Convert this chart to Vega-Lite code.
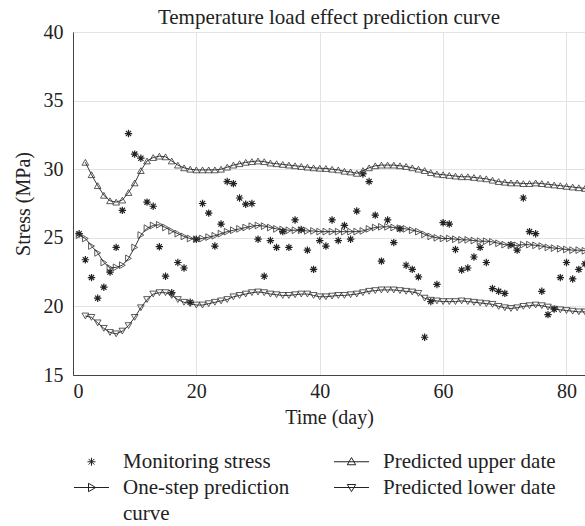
{
  "$schema": "https://vega.github.io/schema/vega-lite/v6.json",
  "width": 512,
  "height": 343,
  "autosize": {"type": "none"},
  "padding": {"left": 73, "top": 32, "right": 0, "bottom": 151},
  "background": "white",
  "title": {"text": "Temperature load effect prediction curve", "font": "Liberation Serif", "fontSize": 21, "fontWeight": "normal", "color": "#222", "offset": -6},
  "config": {
    "view": {"stroke": "#444", "strokeWidth": 1},
    "axis": {"labelFont": "Liberation Serif", "titleFont": "Liberation Serif", "labelFontSize": 20, "titleFontSize": 20, "titleFontWeight": "normal", "labelColor": "#222", "titleColor": "#222", "domainColor": "#444", "gridColor": "#e3e3e3", "ticks": false}
  },
  "data": {"values": [
    {"d":1,"m":25.3,"o":25.2},
    {"d":2,"m":23.4,"o":24.95,"u":30.5,"l":19.3},
    {"d":3,"m":22.1,"o":24.4,"u":29.6,"l":19.2},
    {"d":4,"m":20.6,"o":23.9,"u":28.8,"l":18.8},
    {"d":5,"m":21.4,"o":23.2,"u":28.1,"l":18.4},
    {"d":6,"m":22.5,"o":22.8,"u":27.7,"l":18.1},
    {"d":7,"m":24.3,"o":22.85,"u":27.6,"l":18.0},
    {"d":8,"m":27.0,"o":23.0,"u":27.75,"l":18.2},
    {"d":9,"m":32.6,"o":23.5,"u":28.3,"l":18.6},
    {"d":10,"m":31.1,"o":24.3,"u":29.0,"l":19.2},
    {"d":11,"m":30.8,"o":25.2,"u":29.9,"l":19.9},
    {"d":12,"m":27.6,"o":25.7,"u":30.6,"l":20.5},
    {"d":13,"m":27.3,"o":25.9,"u":30.85,"l":20.9},
    {"d":14,"m":24.35,"o":25.95,"u":30.95,"l":21.0},
    {"d":15,"m":22.2,"o":25.75,"u":30.9,"l":21.0},
    {"d":16,"m":21.0,"o":25.5,"u":30.6,"l":20.8},
    {"d":17,"m":23.2,"o":25.3,"u":30.3,"l":20.5},
    {"d":18,"m":22.8,"o":25.1,"u":30.1,"l":20.3},
    {"d":19,"m":20.3,"o":24.95,"u":30.0,"l":20.2},
    {"d":20,"m":24.9,"o":24.9,"u":29.95,"l":20.1},
    {"d":21,"m":27.5,"o":24.95,"u":29.95,"l":20.1},
    {"d":22,"m":26.8,"o":25.05,"u":29.95,"l":20.2},
    {"d":23,"m":24.4,"o":25.15,"u":29.95,"l":20.3},
    {"d":24,"m":26.0,"o":25.3,"u":30.0,"l":20.4},
    {"d":25,"m":29.1,"o":25.45,"u":30.15,"l":20.5},
    {"d":26,"m":28.95,"o":25.55,"u":30.3,"l":20.7},
    {"d":27,"m":27.9,"o":25.65,"u":30.4,"l":20.8},
    {"d":28,"m":27.45,"o":25.75,"u":30.5,"l":20.9},
    {"d":29,"m":27.5,"o":25.85,"u":30.55,"l":21.0},
    {"d":30,"m":24.9,"o":25.9,"u":30.6,"l":21.05},
    {"d":31,"m":22.2,"o":25.85,"u":30.55,"l":21.0},
    {"d":32,"m":24.8,"o":25.75,"u":30.45,"l":20.9},
    {"d":33,"m":24.3,"o":25.65,"u":30.4,"l":20.85},
    {"d":34,"m":25.45,"o":25.6,"u":30.35,"l":20.8},
    {"d":35,"m":24.3,"o":25.55,"u":30.3,"l":20.8},
    {"d":36,"m":26.3,"o":25.55,"u":30.25,"l":20.85},
    {"d":37,"m":25.6,"o":25.55,"u":30.2,"l":20.9},
    {"d":38,"m":24.1,"o":25.5,"u":30.15,"l":20.9},
    {"d":39,"m":22.7,"o":25.5,"u":30.1,"l":20.8},
    {"d":40,"m":24.8,"o":25.45,"u":30.07,"l":20.7},
    {"d":41,"m":24.4,"o":25.45,"u":30.05,"l":20.7},
    {"d":42,"m":26.3,"o":25.45,"u":30.0,"l":20.75},
    {"d":43,"m":24.8,"o":25.45,"u":29.95,"l":20.8},
    {"d":44,"m":25.9,"o":25.45,"u":29.85,"l":20.8},
    {"d":45,"m":24.9,"o":25.45,"u":29.8,"l":20.85},
    {"d":46,"m":26.95,"o":25.45,"u":29.7,"l":20.9},
    {"d":47,"m":29.65,"o":25.5,"u":29.9,"l":21.0},
    {"d":48,"m":29.1,"o":25.65,"u":30.1,"l":21.1},
    {"d":49,"m":26.65,"o":25.75,"u":30.25,"l":21.15},
    {"d":50,"m":23.3,"o":25.8,"u":30.3,"l":21.2},
    {"d":51,"m":26.3,"o":25.8,"u":30.3,"l":21.2},
    {"d":52,"m":24.65,"o":25.75,"u":30.3,"l":21.2},
    {"d":53,"m":25.65,"o":25.7,"u":30.25,"l":21.15},
    {"d":54,"m":23.0,"o":25.65,"u":30.2,"l":21.1},
    {"d":55,"m":22.7,"o":25.55,"u":30.1,"l":21.05},
    {"d":56,"m":22.15,"o":25.45,"u":30.0,"l":20.95},
    {"d":57,"m":17.75,"o":25.25,"u":29.9,"l":20.6},
    {"d":58,"m":20.35,"o":25.1,"u":29.75,"l":20.45},
    {"d":59,"m":21.6,"o":25.0,"u":29.65,"l":20.4},
    {"d":60,"m":26.1,"o":24.95,"u":29.6,"l":20.35},
    {"d":61,"m":26.0,"o":24.95,"u":29.55,"l":20.35},
    {"d":62,"m":24.15,"o":24.9,"u":29.5,"l":20.35},
    {"d":63,"m":22.65,"o":24.85,"u":29.45,"l":20.4},
    {"d":64,"m":22.8,"o":24.85,"u":29.45,"l":20.35},
    {"d":65,"m":23.6,"o":24.8,"u":29.4,"l":20.3},
    {"d":66,"m":24.3,"o":24.75,"u":29.35,"l":20.25},
    {"d":67,"m":23.2,"o":24.75,"u":29.3,"l":20.2},
    {"d":68,"m":21.3,"o":24.7,"u":29.2,"l":20.15},
    {"d":69,"m":21.1,"o":24.6,"u":29.1,"l":20.0},
    {"d":70,"m":20.95,"o":24.5,"u":29.05,"l":19.9},
    {"d":71,"m":24.5,"o":24.45,"u":29.0,"l":19.85},
    {"d":72,"m":24.1,"o":24.45,"u":29.0,"l":19.9},
    {"d":73,"m":27.9,"o":24.5,"u":28.95,"l":20.0},
    {"d":74,"m":25.45,"o":24.5,"u":28.95,"l":20.05},
    {"d":75,"m":25.3,"o":24.45,"u":29.0,"l":20.1},
    {"d":76,"m":21.1,"o":24.4,"u":28.95,"l":20.05},
    {"d":77,"m":19.4,"o":24.3,"u":28.9,"l":19.95},
    {"d":78,"m":19.8,"o":24.25,"u":28.85,"l":19.8},
    {"d":79,"m":22.1,"o":24.2,"u":28.8,"l":19.75},
    {"d":80,"m":23.2,"o":24.15,"u":28.75,"l":19.7},
    {"d":81,"m":22.0,"o":24.1,"u":28.7,"l":19.65},
    {"d":82,"m":22.7,"o":24.1,"u":28.65,"l":19.6},
    {"d":83,"m":23.1,"o":24.05,"u":28.6,"l":19.6}
  ]},
  "transform": [
    {"fold": ["m", "o", "u", "l"], "as": ["s", "v"]},
    {"filter": "isValid(datum.v)"}
  ],
  "encoding": {
    "x": {"field": "d", "type": "quantitative", "scale": {"domain": [0, 83], "nice": false, "zero": false},
      "axis": {"values": [0, 20, 40, 60, 80], "title": "Time (day)", "labelPadding": 6, "titlePadding": 6, "grid": true}},
    "y": {"field": "v", "type": "quantitative", "scale": {"domain": [15, 40], "nice": false, "zero": false},
      "axis": {"values": [15, 20, 25, 30, 35, 40], "title": "Stress (MPa)", "labelPadding": 10, "titlePadding": 10, "grid": true}}
  },
  "layer": [
    {
      "transform": [{"filter": "datum.s != 'm'"}],
      "mark": {"type": "line", "color": "#222", "strokeWidth": 0.9, "clip": true},
      "encoding": {"detail": {"field": "s"}}
    },
    {
      "transform": [{"filter": "datum.s == 'm'"}],
      "mark": {"type": "point", "shape": "M0,-1L0,1M-1,0L1,0M-0.7,-0.7L0.7,0.7M-0.7,0.7L0.7,-0.7", "filled": false, "strokeWidth": 1.2, "size": 55, "color": "#222", "opacity": 1, "clip": true}
    },
    {
      "transform": [{"filter": "datum.s == 'o'"}],
      "mark": {"type": "point", "shape": "triangle-right", "filled": false, "strokeWidth": 0.8, "size": 45, "color": "#333", "opacity": 1, "clip": true}
    },
    {
      "transform": [{"filter": "datum.s == 'u'"}],
      "mark": {"type": "point", "shape": "triangle-up", "filled": false, "strokeWidth": 0.8, "size": 45, "color": "#333", "opacity": 1, "clip": true}
    },
    {
      "transform": [{"filter": "datum.s == 'l'"}],
      "mark": {"type": "point", "shape": "triangle-down", "filled": false, "strokeWidth": 0.8, "size": 45, "color": "#333", "opacity": 1, "clip": true}
    },
    {
      "transform": [{"filter": "false"}],
      "mark": {"type": "point", "filled": false, "strokeWidth": 1, "color": "#222", "opacity": 1},
      "encoding": {
        "shape": {
          "field": "s", "type": "nominal",
          "scale": {"domain": ["m", "o", "c", "u", "l"], "range": [
            "M0,-0.4L0,0.4M-0.4,0L0.4,0M-0.28,-0.28L0.28,0.28M-0.28,0.28L0.28,-0.28",
            "M-1.75,0L1.75,0M-0.3,-0.42L0.42,0L-0.3,0.42Z",
            "M0,0",
            "M-1.75,0L1.75,0M0,-0.42L0.42,0.3L-0.42,0.3Z",
            "M-1.75,0L1.75,0M0,0.42L0.42,-0.3L-0.42,-0.3Z"
          ]},
          "legend": {
            "orient": "none", "legendX": 8, "legendY": 419, "columns": 2, "direction": "vertical", "title": null, "padding": 0,
            "labelFont": "Liberation Serif", "labelFontSize": 21, "labelColor": "#222", "labelLimit": 0,
            "symbolSize": 400, "symbolStrokeWidth": 1, "symbolStrokeColor": "#222", "labelOffset": 21, "columnPadding": 42, "rowPadding": 4,
            "labelExpr": "datum.label == 'm' ? 'Monitoring stress' : datum.label == 'u' ? 'Predicted upper date' : datum.label == 'o' ? 'One-step prediction' : datum.label == 'c' ? 'curve' : 'Predicted lower date'"
          }
        }
      }
    }
  ]
}
